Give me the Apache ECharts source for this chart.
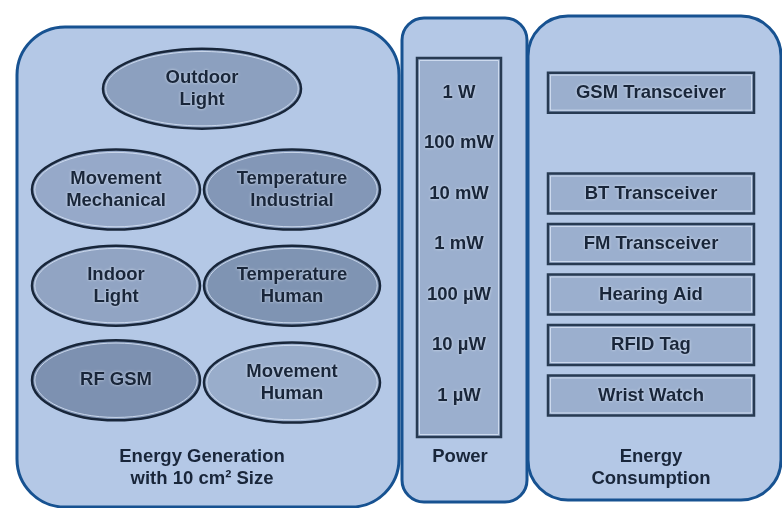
<!DOCTYPE html>
<html>
<head>
<meta charset="utf-8">
<script src="https://cdn.jsdelivr.net/npm/echarts@6/dist/echarts.min.js"></script>
<style>
  html, body { margin: 0; padding: 0; background: #fff; }
  #chart { width: 782px; height: 508px; }
</style>
</head>
<body>
<div id="chart"></div>
<script>
// power scale in watts (log axis)
const powerLevels = [1, 0.1, 0.01, 0.001, 1e-4, 1e-5, 1e-6];
const powerLabels = ['1 W', '100 mW', '10 mW', '1 mW', '100 µW', '10 µW', '1 µW'];

// energy harvesting sources, placed at the power level
const sourceNames = ['Outdoor\nLight', 'Movement\nMechanical', 'Temperature\nIndustrial', 'Indoor\nLight',
  'Temperature\nHuman', 'RF GSM', 'Movement\nHuman'];
const sourceColumn = [1, 0, 2, 0, 2, 0, 2];
const sourcePower = [1.2, 0.012, 0.012, 1.5e-4, 1.5e-4, 2e-6, 1.8e-6];

// consumers
const consumerNames = ['GSM Transceiver', 'BT Transceiver', 'FM Transceiver', 'Hearing Aid', 'RFID Tag', 'Wrist Watch'];
const consumerPower = [1, 0.01, 0.001, 1e-4, 1e-5, 1e-6];

// layout (px)
const columnX = [116, 202, 292];
const columnRx = [84, 99, 88];
const sourceFill = ['#8ca0bf', '#96a9c9', '#8397b7', '#91a4c3', '#7f94b3', '#7d91b1', '#99adcb'];
const powerX = 459;
const consumerX = 651;

const FONT = 'bold 18.5px "Liberation Sans", Arial, sans-serif';
const INK = '#19263a';
const PANEL = '#b4c8e6';
const EDGE = '#175291';
const BOX = '#9bafce';
const BOX_EDGE = '#273a52';
const GLINT = 'rgba(214,226,243,0.85)';

function label(text, x, y) {
  return {
    type: 'text',
    z2: 10,
    style: {
      text: text, x: x, y: y, fill: INK, font: FONT,
      align: 'center', verticalAlign: 'middle', lineHeight: 22,
      textShadowColor: 'rgba(228,237,250,0.9)', textShadowBlur: 3
    }
  };
}

const chart = echarts.init(document.getElementById('chart'));

chart.setOption({
  animation: false,
  grid: { left: 0, right: 0, top: 42.2, bottom: 62.1 },
  xAxis: { type: 'value', min: 0, max: 782, show: false },
  yAxis: { type: 'log', logBase: 10, min: 1e-7, max: 10, show: false },
  graphic: [
    { type: 'rect', z: 0, shape: { x: 17, y: 27, width: 382, height: 480, r: 48 },
      style: { fill: PANEL, stroke: EDGE, lineWidth: 3 } },
    { type: 'rect', z: 0, shape: { x: 402, y: 18, width: 125, height: 484, r: 22 },
      style: { fill: PANEL, stroke: EDGE, lineWidth: 3 } },
    { type: 'rect', z: 0, shape: { x: 528, y: 16, width: 253, height: 484, r: 40 },
      style: { fill: PANEL, stroke: EDGE, lineWidth: 3 } },
    { type: 'rect', z: 1, shape: { x: 417, y: 58, width: 84, height: 379 },
      style: { fill: BOX, stroke: BOX_EDGE, lineWidth: 2.5 } },
    { type: 'rect', z: 1, shape: { x: 419.5, y: 60.5, width: 79, height: 374 },
      style: { fill: 'none', stroke: GLINT, lineWidth: 1 } },
    {
      type: 'text', z: 1, style: {
        text: 'Energy Generation\nwith 10 cm² Size', x: 202, y: 468, fill: INK, font: FONT,
        align: 'center', verticalAlign: 'middle', lineHeight: 22
      }
    },
    {
      type: 'text', z: 1, style: {
        text: 'Power', x: 460, y: 457, fill: INK, font: FONT, align: 'center', verticalAlign: 'middle'
      }
    },
    {
      type: 'text', z: 1, style: {
        text: 'Energy\nConsumption', x: 651, y: 468, fill: INK, font: FONT,
        align: 'center', verticalAlign: 'middle', lineHeight: 22
      }
    }
  ],
  series: [
    {
      name: 'sources',
      type: 'custom',
      z: 5,
      data: sourceNames.map((n, i) => [columnX[sourceColumn[i]], sourcePower[i], i]),
      renderItem: function (params, api) {
        const i = api.value(2);
        const p = api.coord([api.value(0), api.value(1)]);
        const rx = columnRx[sourceColumn[i]];
        const ry = 40;
        return {
          type: 'group',
          children: [
            { type: 'ellipse', shape: { cx: p[0], cy: p[1], rx: rx, ry: ry },
              style: { fill: sourceFill[i], stroke: '#18263a', lineWidth: 2.5 } },
            { type: 'ellipse', shape: { cx: p[0], cy: p[1], rx: rx - 2.8, ry: ry - 2.8 },
              style: { fill: 'none', stroke: GLINT, lineWidth: 1 } },
            label(sourceNames[i], p[0], p[1])
          ]
        };
      }
    },
    {
      name: 'power',
      type: 'custom',
      z: 5,
      data: powerLevels.map((v, i) => [powerX, v, i]),
      renderItem: function (params, api) {
        const p = api.coord([api.value(0), api.value(1)]);
        return label(powerLabels[api.value(2)], p[0], p[1]);
      }
    },
    {
      name: 'consumers',
      type: 'custom',
      z: 5,
      data: consumerNames.map((n, i) => [consumerX, consumerPower[i], i]),
      renderItem: function (params, api) {
        const p = api.coord([api.value(0), api.value(1)]);
        const w = 206, h = 40;
        return {
          type: 'group',
          children: [
            { type: 'rect', shape: { x: p[0] - w / 2, y: p[1] - h / 2, width: w, height: h },
              style: { fill: BOX, stroke: BOX_EDGE, lineWidth: 2.5 } },
            { type: 'rect', shape: { x: p[0] - w / 2 + 2.5, y: p[1] - h / 2 + 2.5, width: w - 5, height: h - 5 },
              style: { fill: 'none', stroke: GLINT, lineWidth: 1 } },
            label(consumerNames[api.value(2)], p[0], p[1])
          ]
        };
      }
    }
  ]
});
</script>
</body>
</html>
